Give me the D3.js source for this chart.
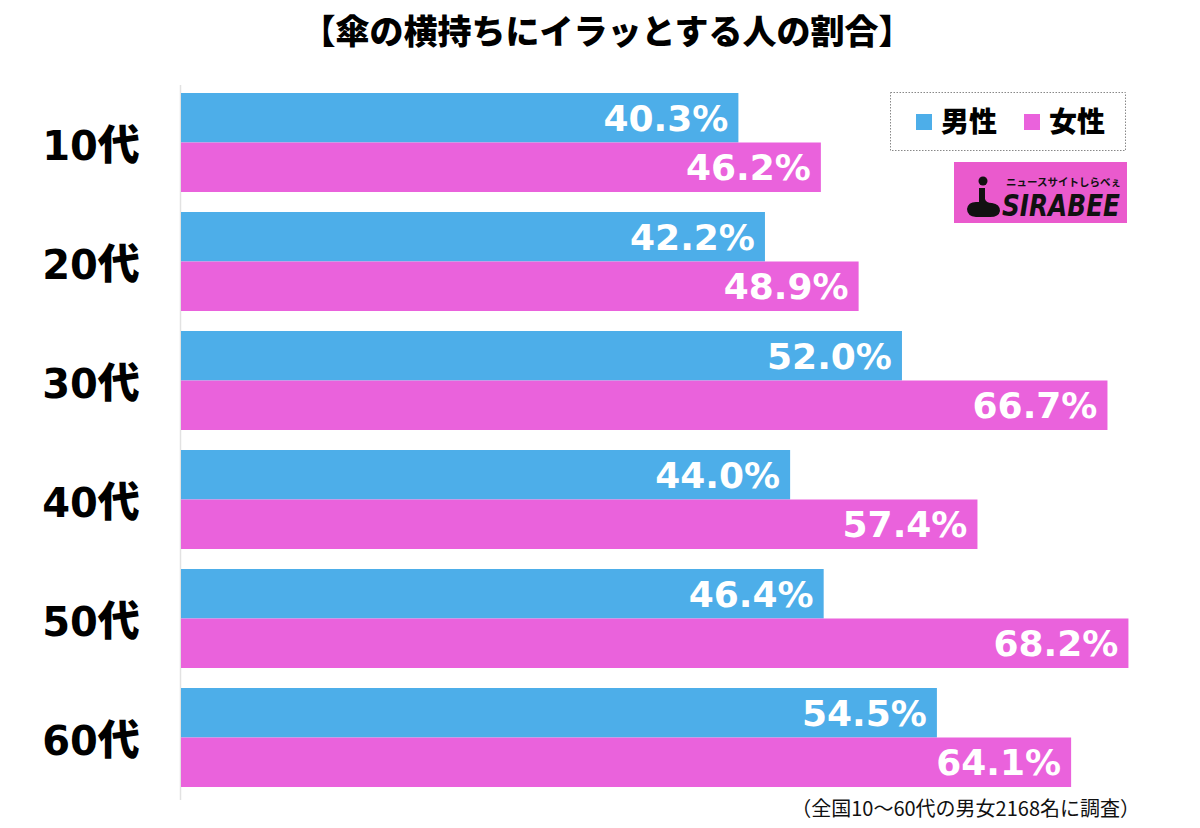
<!DOCTYPE html>
<html><head><meta charset="utf-8">
<script src="https://cdn.jsdelivr.net/npm/d3@7"></script>
<style>body{margin:0;background:#fff}svg{display:block}</style>
</head><body>
<svg id="c" width="1200" height="828"></svg>
<script>
const categories = ["10代","20代","30代","40代","50代","60代"];
const seriesNames = ["男性","女性"];
const male = [40.3, 42.2, 52.0, 44.0, 46.4, 54.5];
const female = [46.2, 48.9, 66.7, 57.4, 68.2, 64.1];
const title = "【傘の横持ちにイラッとする人の割合】";
const note = "（全国10〜60代の男女2168名に調査）";
const colors = ["#4DAEE9", "#EA62DC"];

const svg = d3.select("#c");
const jp = "'Noto Sans CJK JP','Noto Sans',sans-serif";
const num = "'DejaVu Sans',sans-serif";

const x = d3.scaleLinear().domain([0, 70]).range([175, 175 + 70*13.98]);
const y = d3.scaleBand().domain(categories).range([93, 787]).paddingInner(20/119).paddingOuter(0);
const y1 = d3.scaleBand().domain(seriesNames).range([0, y.bandwidth()]);
const axisX = 181;

svg.append("text").attr("x", 607).attr("y", 44).attr("text-anchor","middle")
  .attr("font-family", jp).attr("font-weight", 900).attr("font-size", 34).text(title);

// axis line
svg.append("line").attr("x1", 180.5).attr("x2", 180.5).attr("y1", 85).attr("y2", 800)
  .attr("stroke", "#e2e2e2").attr("stroke-width", 1.5);

const data = categories.map((c,i)=>({c, vals:[male[i], female[i]]}));
const g = svg.selectAll("g.cat").data(data).join("g").attr("class","cat")
  .attr("transform", d=>`translate(0,${y(d.c)})`);

g.selectAll("rect").data(d=>d.vals.map((v,j)=>({v, s:seriesNames[j], j}))).join("rect")
  .attr("x", axisX).attr("y", d=>y1(d.s)).attr("height", y1.bandwidth())
  .attr("width", d=>x(d.v)-axisX).attr("fill", d=>colors[d.j]);

g.selectAll("text.val").data(d=>d.vals.map((v,j)=>({v, s:seriesNames[j], j}))).join("text")
  .attr("class","val")
  .attr("x", d=>x(d.v)-10).attr("y", d=>y1(d.s)+y1.bandwidth()/2+13)
  .attr("text-anchor","end").attr("fill","#fff").attr("font-family", num)
  .attr("font-weight","bold").attr("font-size", 36).text(d=>d.v.toFixed(1)+"%");

const cl = g.append("text").attr("x", 91).attr("y", y.bandwidth()/2+17)
  .attr("text-anchor","middle");
cl.append("tspan").attr("font-family", num).attr("font-weight","bold").attr("font-size", 40)
  .text(d=>d.c.replace("代",""));
cl.append("tspan").attr("font-family", jp).attr("font-weight",900).attr("font-size", 42)
  .text("代");

// legend
const lg = svg.append("g");
lg.append("rect").attr("x", 890.5).attr("y", 92.5).attr("width", 235).attr("height", 58)
  .attr("fill","#fff").attr("stroke","#888").attr("stroke-dasharray","1.5,1.5").attr("stroke-width",1);
const lx = [916, 1024];
seriesNames.forEach((s,i)=>{
  lg.append("rect").attr("x", lx[i]).attr("y", 114).attr("width", 16).attr("height", 16).attr("fill", colors[i]);
  lg.append("text").attr("x", lx[i]+25).attr("y", 132).attr("font-family", jp).attr("font-weight",900)
    .attr("font-size", 28).text(s);
});

// logo
const lo = svg.append("g");
lo.append("rect").attr("x", 954).attr("y", 162).attr("width", 173).attr("height", 61).attr("fill", "#EA5ACD");
lo.append("circle").attr("cx", 983).attr("cy", 181).attr("r", 4.5).attr("fill","#111");
lo.append("path").attr("d","M979 188 L985 188 L985 199 Q986 203 992 203 Q1000 204 1000 211 Q999 217 990 217 L976 217 Q967 216 967 209 Q968 202 976 202 L979 202 Z").attr("fill","#111");
lo.append("text").attr("x", 1006).attr("y", 186).attr("font-family", jp).attr("font-weight",700)
  .attr("font-size", 10.5).attr("fill","#111").text("ニュースサイトしらべぇ");
lo.append("text").attr("x", 1002).attr("y", 216).attr("font-family", "'DejaVu Sans',sans-serif").attr("font-weight","bold")
  .attr("font-style","italic").attr("font-size", 30).attr("fill","#111").attr("textLength", 118).attr("lengthAdjust","spacingAndGlyphs").text("SIRABEE");

svg.append("text").attr("x", 1140).attr("y", 816).attr("text-anchor","end")
  .attr("font-family", jp).attr("font-size", 20).attr("fill","#111").text(note);
</script>
</body></html>
